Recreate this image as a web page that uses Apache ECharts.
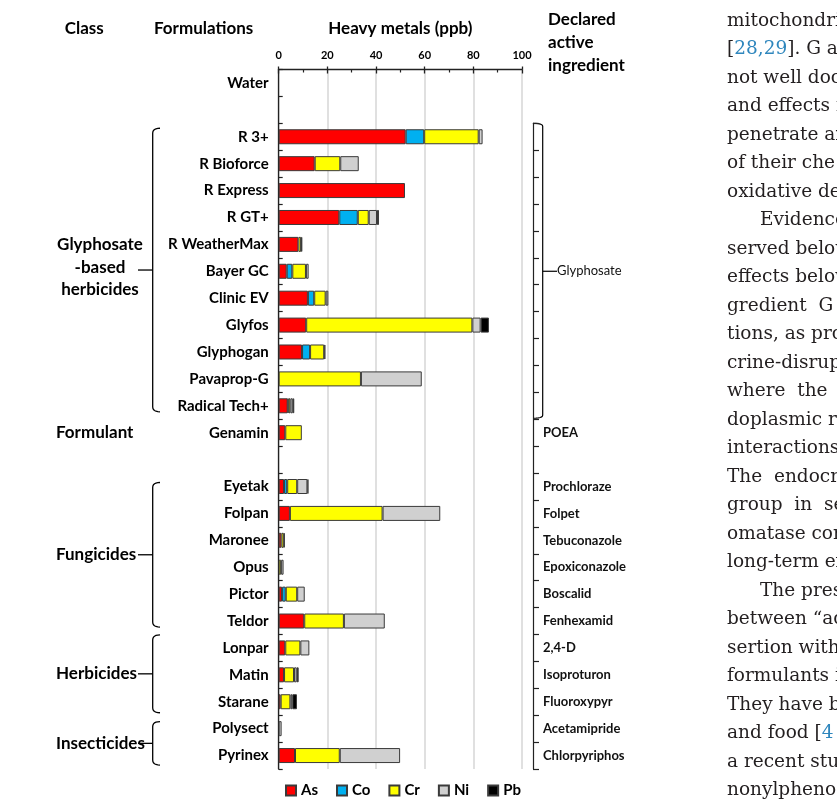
<!DOCTYPE html>
<html><head><meta charset="utf-8">
<script src="https://cdn.jsdelivr.net/npm/echarts@6/dist/echarts.min.js"></script>
<style>html,body{margin:0;padding:0;background:#fff}#c{width:837px;height:799px}</style>
</head><body><div id="c"></div>
<script>
// ---------- data ----------
const categories = ['Water',' ','R 3+','R Bioforce','R Express','R GT+','R WeatherMax','Bayer GC','Clinic EV','Glyfos','Glyphogan','Pavaprop-G','Radical Tech+','Genamin','  ','Eyetak','Folpan','Maronee','Opus','Pictor','Teldor','Lonpar','Matin','Starane','Polysect','Pyrinex'];
const metals = ['As','Co','Cr','Ni','Pb'];
const As = [0,0,52.2,14.8,51.9,24.9,8.1,3.3,12.0,11.3,9.6,0,3.7,2.7,0,2.2,4.6,1.1,0,1.4,10.5,2.7,2.2,0.8,0,6.7];
const Co = [0,0,7.6,0,0,7.6,0,2.3,2.6,0,3.3,0,0.3,0,0,1.3,0,0,0,1.5,0,0,0,0,0,0];
const Cr = [0,0,22.4,10.5,0,4.5,1.1,5.6,4.7,68.3,5.8,33.8,0.8,6.8,0,4.1,38.1,1.0,1.0,4.7,16.3,6.2,4.1,4.0,0,18.4];
const Ni = [0,0,1.6,7.6,0,3.4,0,1.1,1.1,3.4,0.5,25.0,1.0,0,0,4.2,23.7,0,1.0,3.1,16.8,3.7,1.1,0.8,1.2,24.8];
const Pb = [0,0,0,0,0,0.8,0.5,0,0,3.4,0,0,0.6,0,0,0.4,0,0.4,0,0,0,0,0.8,1.9,0,0];
const metalValues = [As, Co, Cr, Ni, Pb];
const metalColors = ['#ff0000','#00b0f0','#ffff00','#d0d0d0','#000000'];
const xTickMin = 0, xTickMax = 100, xTickStep = 20;
// declared active ingredient per formulation (rows R 3+ .. Pyrinex)
const ingredientRows = categories.slice(2);
const activeIngredient = ['','','','','','Glyphosate','','','','','','POEA','','Prochloraze','Folpet','Tebuconazole','Epoxiconazole','Boscalid','Fenhexamid','2,4-D','Isoproturon','Fluoroxypyr','Acetamipride','Chlorpyriphos'];
const classGroups = [
  {name:'Glyphosate\n-based\nherbicides', first:'R 3+', last:'Radical Tech+', bracket:true},
  {name:'Formulant', first:'Genamin', last:'Genamin', bracket:false},
  {name:'Fungicides', first:'Eyetak', last:'Teldor', bracket:true},
  {name:'Herbicides', first:'Lonpar', last:'Starane', bracket:true},
  {name:'Insecticides', first:'Polysect', last:'Pyrinex', bracket:true}
];
// body text of the page beside the figure
const bodyLines = [
  ['mitochondri',0],['[{b|28,29}]. G a',0],['not well doc',0],['and effects i',0],['penetrate an',0],
  ['of their che',0],['oxidative de',0],['Evidence',1],['served below',0],['effects below',0],
  ['gredient  G',0],['tions, as pro',0],['crine-disrup',0],['where  the',0],['doplasmic r',0],
  ['interactions',0],['The  endocri',0],['group  in  sev',0],['omatase con',0],['long-term ex',0],
  ['The pres',1],['between \u201cac',0],['sertion with',0],['formulants i',0],['They have b',0],
  ['and food [{b|4}',0],['a recent stu',0],['nonylpheno',0]
];

// ---------- chart ----------
const FONT = 'Lato';
const chart = echarts.init(document.getElementById('c'));
const series = metals.map((m, k) => ({
  name: m, type: 'bar', stack: 'metals', xAxisIndex: 0, yAxisIndex: 0,
  barWidth: 15,
  data: metalValues[k].map(v => v === 0 ? null : v),
  itemStyle: {color: metalColors[k], borderColor: '#3a3a3a', borderWidth: 1}
}));

chart.setOption({
  animation: false,
  backgroundColor: '#fff',
  textStyle: {fontFamily: FONT},
  grid: [
    {left: 278.7, top: 69.5, width: 243.3, height: 699.5},
    {left: 533, top: 123.3, width: 1, height: 645.7}
  ],
  xAxis: [
    {type: 'value', gridIndex: 0, position: 'top', min: xTickMin, max: xTickMax, interval: xTickStep,
     name: 'Heavy metals (ppb)', nameLocation: 'middle', nameGap: 32,
     nameTextStyle: {fontSize: 17, fontWeight: 'bold', color: '#000', fontFamily: FONT},
     axisLine: {show: true, lineStyle: {color: '#222', width: 1.3}},
     axisTick: {show: true, inside: false, length: 3, lineStyle: {color: '#222', width: 1.3}},
     axisLabel: {fontSize: 11, fontWeight: 'bold', color: '#000', margin: 9, fontFamily: FONT},
     splitLine: {show: true, lineStyle: {color: '#d6d6d6', width: 1.5}}},
    {type: 'value', gridIndex: 0, position: 'top', min: xTickMin, max: xTickMax, interval: xTickStep,
     axisLine: {show: false}, axisLabel: {show: false}, splitLine: {show: false},
     axisTick: {show: true, inside: true, length: 4, lineStyle: {color: '#222', width: 1.3}},
     minorTick: {show: true, splitNumber: 2, length: 3, lineStyle: {color: '#222', width: 1.2}}},
    {type: 'value', gridIndex: 1, show: false}
  ],
  yAxis: [
    {type: 'category', gridIndex: 0, inverse: true, data: categories,
     axisLine: {show: true, lineStyle: {color: '#222', width: 1.3}},
     axisTick: {show: true, inside: true, length: 4, lineStyle: {color: '#222', width: 1.2}},
     axisLabel: {fontSize: 15, fontWeight: 'bold', color: '#000', margin: 10, fontFamily: FONT},
     splitLine: {show: false}},
    {type: 'category', gridIndex: 1, inverse: true, position: 'left', data: ingredientRows,
     axisLine: {show: true, lineStyle: {color: '#222', width: 1.2}},
     axisTick: {show: true, inside: true, length: 6, lineStyle: {color: '#222', width: 1.2}},
     axisLabel: {inside: true, margin: 10, fontSize: 13, fontWeight: 'bold', color: '#111', fontFamily: FONT, align: 'left',
       formatter: (v, i) => activeIngredient[i] === 'Glyphosate' ? '{g|Glyphosate}' : activeIngredient[i],
       rich: {g: {fontSize: 13, fontWeight: 'normal', color: '#111', fontFamily: FONT, padding: [0, 0, 0, 14]}}},
     splitLine: {show: false}}
  ],
  legend: {data: metals, left: 285, top: 783, padding: 0, itemWidth: 10, itemHeight: 10, itemGap: 18, icon: 'rect',
    textStyle: {fontSize: 15, fontWeight: 'bold', color: '#000', fontFamily: FONT}},
  series: series
});

// ---------- annotations tied to category positions ----------
function rowY(name) { return chart.convertToPixel({yAxisIndex: 0}, name); }
const rowH = rowY(categories[3]) - rowY(categories[2]);
const gfx = [];
const txt = (t, x, y, opt) => gfx.push({type: 'text', silent: true, style: Object.assign({
  text: t, x: x, y: y, fill: '#000', fontFamily: FONT, fontSize: 17, fontWeight: 'bold',
  verticalAlign: 'middle', align: 'left'}, opt || {})});
// quadratic curve points
function quad(p0, c, p1, n) {
  const out = [];
  for (let k = 1; k <= n; k++) {
    const t = k / n, u = 1 - t;
    out.push([u * u * p0[0] + 2 * u * t * c[0] + t * t * p1[0], u * u * p0[1] + 2 * u * t * c[1] + t * t * p1[1]]);
  }
  return out;
}
function bracketPoints(xEnd, bx, top, bot, r) {
  let pts = [[xEnd, top]];
  pts = pts.concat(quad([xEnd, top], [bx, top], [bx, top + r], 6));
  pts.push([bx, bot - r]);
  pts = pts.concat(quad([bx, bot - r], [bx, bot], [xEnd, bot], 6));
  return pts;
}
const lineStyle = (w) => ({fill: 'none', stroke: '#000', lineWidth: w});

txt('Class', 64.7, 29);
txt('Formulations', 154, 29);
txt('Declared\nactive\ningredient', 548, 43, {lineHeight: 23});

const bracketPad = {'R 3+': [-8.5, 6], 'Eyetak': [-4, 6], 'Lonpar': [-13, 11], 'Polysect': [-7, 9.5]};
classGroups.forEach(g => {
  const y0 = rowY(g.first), y1 = rowY(g.last);
  if (!g.bracket) { txt(g.name, 56, y0); return; }
  const pad = bracketPad[g.first];
  const top = y0 + pad[0], bot = y1 + pad[1], mid = (top + bot) / 2;
  const bx = 152.7;
  gfx.push({type: 'polyline', silent: true, shape: {points: bracketPoints(160, bx, top, bot, 5)}, style: lineStyle(1.3)});
  gfx.push({type: 'line', silent: true, shape: {x1: bx, y1: mid, x2: 138, y2: mid}, style: lineStyle(1.3)});
  if (g.name.indexOf('\n') >= 0) txt(g.name, 100, mid - 3, {align: 'center', lineHeight: 22.5});
  else txt(g.name, 56, mid);
});

// right bracket for the glyphosate-based group
(function () {
  const t = rowY('R 3+') - rowH / 2, b = rowY('Radical Tech+') + rowH / 2 - 1, x = 542.7;
  gfx.push({type: 'polyline', silent: true, shape: {points: bracketPoints(533, x, t, b, 3)}, style: lineStyle(1.2)});
  const gy = chart.convertToPixel({yAxisIndex: 1}, ingredientRows[activeIngredient.indexOf('Glyphosate')]);
  gfx.push({type: 'line', silent: true, shape: {x1: x, y1: gy, x2: 557, y2: gy}, style: lineStyle(1.2)});
})();

// body text
bodyLines.forEach((ln, i) => {
  gfx.push({type: 'text', silent: true, style: {
    text: ln[0], x: 727 + (ln[1] ? 33 : 0), y: 21 + i * 28.5, fill: '#231f20',
    fontFamily: 'DejaVu Serif', fontSize: 18.5, verticalAlign: 'middle', align: 'left',
    rich: {b: {fill: '#2e86bd', fontFamily: 'DejaVu Serif', fontSize: 18.5}}}});
});

chart.setOption({graphic: gfx});
</script>
</body></html>
